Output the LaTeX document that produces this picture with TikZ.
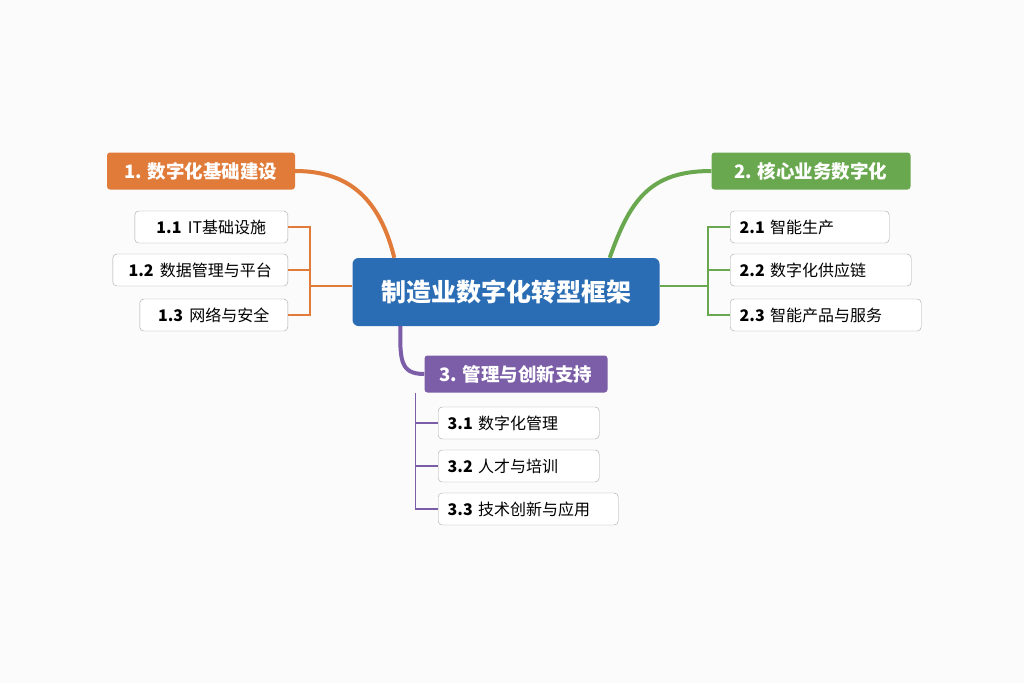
\documentclass[tikz,border=0pt]{standalone}
\usepackage{fontspec}
\setmainfont{Noto Sans CJK SC}
\usetikzlibrary{calc}
\definecolor{cblue}{HTML}{2A6DB5}
\definecolor{corange}{HTML}{E07B39}
\definecolor{cgreen}{HTML}{6AA84F}
\definecolor{cpurple}{HTML}{7B5EA7}
\begin{document}
\begin{tikzpicture}[x=1pt,y=-1pt]
	\tikzstyle{root}=[rectangle,rounded corners=6pt,fill=cblue,text=white,font=\fontsize{25}{28}\selectfont\bfseries,minimum width=307pt,minimum height=68pt];
	\tikzstyle{branch}=[rectangle,rounded corners=3pt,text=white,font=\fontsize{18.5}{21}\selectfont\bfseries,minimum height=37pt,inner xsep=6pt];
	\tikzstyle{leaf}=[rectangle,rounded corners=4pt,draw=gray!70,fill=white,font=\fontsize{16}{18}\selectfont,minimum height=32pt,inner xsep=6pt];
	\tikzstyle{link}=[line width=1.3pt];
	\useasboundingbox (0,0) rectangle (1024,683);
	\fill[white!97!gray] (0,0) rectangle (1024,683);

	\node[root](c) at (506,292){制造业数字化转型框架};

	% branch 1
	\node[branch,fill=corange,minimum width=188pt](b1) at (201,171){1. 数字化基础建设};
	\draw[corange,line width=4pt] ($(c.north west)+(42,0)$) .. controls (380,200) and (350,171) .. (b1.east);
	\node[leaf,anchor=east,minimum width=153pt](l11) at (288,227){\textbf{1.1}\, IT基础设施};
	\node[leaf,anchor=east,minimum width=175pt](l12) at (288,270){\textbf{1.2}\, 数据管理与平台};
	\node[leaf,anchor=east,minimum width=148pt](l13) at (288,315){\textbf{1.3}\, 网络与安全};
	\coordinate (k1) at (310,286);
	\draw[corange,link] (l11.east) -- (310,227) -- (310,315) -- (l13.east) (l12.east) -- (310,270);
	\draw[corange,link] (k1) -- (c.west|-k1);

	% branch 2
	\node[branch,fill=cgreen,minimum width=199pt](b2) at (811,171){2. 核心业务数字化};
	\draw[cgreen,line width=4pt] ($(c.north east)+(-50,0)$) .. controls (630,200) and (650,171) .. (b2.west);
	\node[leaf,anchor=west,minimum width=159pt,align=left,text width=140pt](l21) at (730,227){\textbf{2.1} 智能生产};
	\node[leaf,anchor=west,minimum width=181pt,align=left,text width=162pt](l22) at (730,270){\textbf{2.2} 数字化供应链};
	\node[leaf,anchor=west,minimum width=191pt,align=left,text width=172pt](l23) at (730,315){\textbf{2.3} 智能产品与服务};
	\coordinate (k2) at (708,286);
	\draw[cgreen,link] (l21.west) -- (708,227) -- (708,315) -- (l23.west) (l22.west) -- (708,270);
	\draw[cgreen,link] (k2) -- (c.east|-k2);

	% branch 3
	\node[branch,fill=cpurple,minimum width=183pt](b3) at (516,374){3. 管理与创新支持};
	\draw[cpurple,line width=4pt] ($(c.south west)+(48,0)$) .. controls (400,360) and (400,374) .. (b3.west);
	\node[leaf,anchor=west,minimum width=161pt,align=left,text width=142pt](l31) at (438,423){\textbf{3.1} 数字化管理};
	\node[leaf,anchor=west,minimum width=161pt,align=left,text width=142pt](l32) at (438,466){\textbf{3.2} 人才与培训};
	\node[leaf,anchor=west,minimum width=180pt,align=left,text width=161pt](l33) at (438,509){\textbf{3.3} 技术创新与应用};
	\draw[cpurple,link] (b3.south west) ++(-9,0) coordinate (k3) -- (k3|-l33.west) -- (l33.west) (k3|-l31.west) -- (l31.west) (k3|-l32.west) -- (l32.west);
\end{tikzpicture}
\end{document}
